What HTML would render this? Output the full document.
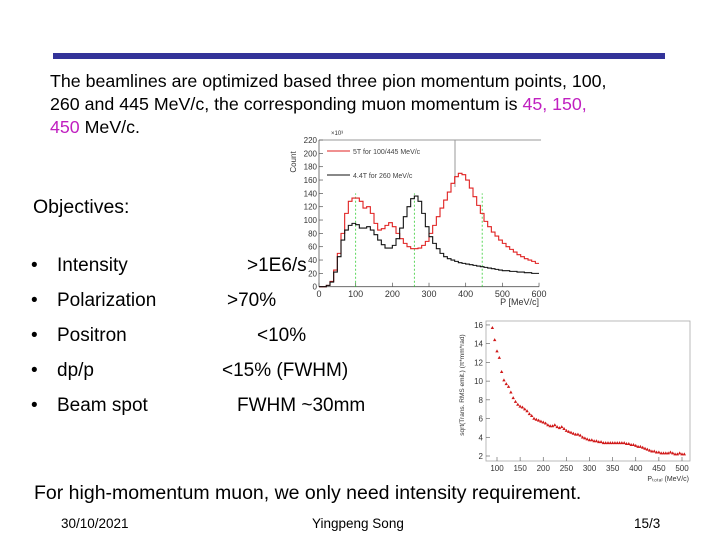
<!DOCTYPE html>
<html><head><meta charset="utf-8"><style>
body{margin:0;width:720px;height:540px;background:#fff;position:relative;overflow:hidden;font-family:"Liberation Sans",Arial,sans-serif;color:#000}
.t{position:absolute;white-space:nowrap}
.m{color:#c020c0}
.b{position:absolute;font-size:19px;line-height:22px}
</style></head><body>
<div style="position:absolute;left:53px;top:53px;width:612px;height:6px;background:#333399"></div>
<div class="t" style="left:50px;top:70px;font-size:17.8px;line-height:23px">The beamlines are optimized based three pion momentum points, 100,<br>260 and 445 MeV/c, the corresponding muon momentum is <span class="m">45, 150,</span><br><span class="m">450</span> MeV/c.</div>
<div class="t" style="left:33px;top:196px;font-size:19.5px">Objectives:</div>
<div class="t b" style="left:31px;top:255px">•</div><div class="t b" style="left:57px;top:255px">Intensity</div>
<div class="t b" style="left:31px;top:290px">•</div><div class="t b" style="left:57px;top:290px">Polarization</div>
<div class="t b" style="left:31px;top:325px">•</div><div class="t b" style="left:57px;top:325px">Positron</div>
<div class="t b" style="left:31px;top:360px">•</div><div class="t b" style="left:57px;top:360px">dp/p</div>
<div class="t b" style="left:31px;top:395px">•</div><div class="t b" style="left:57px;top:395px">Beam spot</div>
<div class="t b" style="left:227px;top:290px">&gt;70%</div>
<div class="t b" style="left:257px;top:325px">&lt;10%</div>
<div class="t b" style="left:222px;top:360px">&lt;15% (FWHM)</div>
<div class="t b" style="left:237px;top:395px">FWHM ~30mm</div>
<div class="t" style="left:34px;top:482px;font-size:19.5px">For high-momentum muon, we only need intensity requirement.</div>
<div class="t" style="left:61px;top:516px;font-size:13.5px">30/10/2021</div>
<div class="t" style="left:312px;top:516px;font-size:13.5px">Yingpeng Song</div>
<div class="t" style="left:634px;top:516px;font-size:13.5px">15/3</div>

<svg id="c1" width="720" height="540" style="position:absolute;left:0;top:0"></svg>
<div class="t b" style="left:247px;top:255px">&gt;1E6/s</div>

<script>
const hBins=[0,10,20,30,40,50,60,70,80,90,100,110,120,130,140,150,160,170,180,190,200,210,220,230,240,250,260,270,280,290,300,310,320,330,340,350,360,370,380,390,400,410,420,430,440,450,460,470,480,490,500,510,520,530,540,550,560,570,580,590];
const red5T=[0,0,2,8,25,50,80,110,128,133,133,128,118,120,110,95,85,87,92,96,90,80,72,65,60,57,57,58,62,68,80,92,105,118,130,142,155,165,170,168,160,148,135,122,110,98,90,82,76,70,65,60,56,52,48,45,42,40,38,35];
const black44T=[0,0,2,7,22,45,70,85,92,95,93,88,88,90,85,78,70,63,58,58,62,72,88,105,120,132,136,128,110,90,75,65,57,50,45,42,40,38,36,35,34,33,32,31,30,29,28,27,26,25,24,24,23,23,22,22,21,21,20,20];
const hXTicks=[0,100,200,300,400,500,600];
const hYTicks=[0,20,40,60,80,100,120,140,160,180,200,220];
const markers=[100,260,445];

const eP=[90,95,100,105,110,115,120,125,130,135,140,145,150,155,160,165,170,175,180,185,190,195,200,205,210,215,220,225,230,235,240,245,250,255,260,265,270,275,280,285,290,295,300,305,310,315,320,325,330,335,340,345,350,355,360,365,370,375,380,385,390,395,400,405,410,415,420,425,430,435,440,445,450,455,460,465,470,475,480,485,490,495,500,505];
const eEmit=[15.7,14.4,13.2,12.5,11.0,10.1,9.7,9.4,8.8,8.2,7.8,7.5,7.3,7.2,7.0,6.8,6.5,6.3,6.0,5.9,5.8,5.7,5.6,5.5,5.3,5.2,5.2,5.3,5.1,5.0,5.1,4.9,4.7,4.6,4.5,4.4,4.3,4.3,4.2,4.0,3.9,3.8,3.7,3.7,3.6,3.6,3.5,3.5,3.4,3.4,3.4,3.4,3.4,3.4,3.4,3.4,3.4,3.4,3.3,3.3,3.2,3.2,3.1,3.0,3.0,2.9,2.8,2.7,2.6,2.5,2.5,2.4,2.4,2.3,2.3,2.3,2.3,2.4,2.3,2.2,2.2,2.3,2.2,2.2];
const eXTicks=[100,150,200,250,300,350,400,450,500];
const eYTicks=[2,4,6,8,10,12,14,16];

const NS='http://www.w3.org/2000/svg';
const svg=document.getElementById('c1');
function mk(tag,at,txt){const e=document.createElementNS(NS,tag);for(const k in at)e.setAttribute(k,at[k]);if(txt!=null)e.textContent=txt;svg.appendChild(e);return e;}

const hx=v=>319+v*0.3667, hy=v=>286.7-v*0.6667;
let e;
e=mk('line',{x1:hx(0),y1:140,x2:hx(600)+2,y2:140,stroke:'#999','stroke-width':1});

e=mk('line',{x1:hx(0),y1:140,x2:hx(0),y2:hy(0),stroke:'#555','stroke-width':0.8});

e=mk('line',{x1:hx(0),y1:hy(0),x2:hx(600),y2:hy(0),stroke:'#555','stroke-width':0.8});

e=mk('line',{x1:455,y1:140,x2:455,y2:187,stroke:'#999','stroke-width':1});

hXTicks.forEach(v=>{e=mk('line',{x1:hx(v),y1:hy(0),x2:hx(v),y2:hy(0)-4,stroke:'#555','stroke-width':0.7});
e=mk('text',{x:hx(v),y:297,'font-size':9,'text-anchor':'middle',fill:'#333','font-family':'Liberation Sans'},v);});
hYTicks.forEach(v=>{e=mk('line',{x1:hx(0),y1:hy(v),x2:hx(0)+4,y2:hy(v),stroke:'#555','stroke-width':0.7});
e=mk('text',{x:hx(0)-2,y:hy(v)+3,'font-size':8,'text-anchor':'end',fill:'#333','font-family':'Liberation Sans'},v);});
e=mk('text',{x:331,y:135,'font-size':6,fill:'#333','font-family':'Liberation Sans'},'×10³');
e=mk('text',{x:0,y:0,'font-size':8,fill:'#333','font-family':'Liberation Sans',transform:'translate(296,162) rotate(-90)','text-anchor':'middle'},'Count');
e=mk('text',{x:hx(600),y:305,'font-size':9,fill:'#333','text-anchor':'end','font-family':'Liberation Sans'},'P [MeV/c]');
markers.forEach(v=>{e=mk('line',{x1:hx(v),y1:hy(0),x2:hx(v),y2:hy(140),stroke:'#3c3','stroke-width':0.8,'stroke-dasharray':'2,2'});});
function step(vals){let d='';vals.forEach((v,i)=>{const x0=hx(hBins[i]),x1=hx(hBins[i]+10),y=hy(v);d+=(i?'L':'M')+x0+','+y+'L'+x1+','+y;});return d;}
e=mk('path',{d:step(red5T),fill:'none',stroke:'#e02020','stroke-width':1.1});
e=mk('path',{d:step(black44T),fill:'none',stroke:'#111','stroke-width':1.1});
e=mk('line',{x1:327,y1:151,x2:350,y2:151,stroke:'#e02020','stroke-width':1});
e=mk('text',{x:353,y:154,'font-size':7,fill:'#444','font-family':'Liberation Sans'},'5T for 100/445 MeV/c');
e=mk('line',{x1:327,y1:175,x2:350,y2:175,stroke:'#111','stroke-width':1});
e=mk('text',{x:353,y:178,'font-size':7,fill:'#444','font-family':'Liberation Sans'},'4.4T for 260 MeV/c');

const ex=v=>497+(v-100)*0.4625, ey=v=>456-(v-2)*9.36;
e=mk('rect',{x:486,y:321,width:204,height:140,fill:'none',stroke:'#aaa','stroke-width':0.8});
eXTicks.forEach(v=>{e=mk('line',{x1:ex(v),y1:461,x2:ex(v),y2:457,stroke:'#555','stroke-width':0.6});
e=mk('text',{x:ex(v),y:471,'font-size':8,'text-anchor':'middle',fill:'#333','font-family':'Liberation Sans'},v);});
eYTicks.forEach(v=>{e=mk('line',{x1:486,y1:ey(v),x2:490,y2:ey(v),stroke:'#555','stroke-width':0.6});
e=mk('text',{x:483,y:ey(v)+3,'font-size':8,'text-anchor':'end',fill:'#333','font-family':'Liberation Sans'},v);});
e=mk('text',{x:0,y:0,'font-size':6.5,fill:'#333','font-family':'Liberation Sans',transform:'translate(464,385) rotate(-90)','text-anchor':'middle'},'sqrt(Trans. RMS emit.) (\u03c0*mm*rad)');
e=mk('text',{x:689,y:481,'font-size':7,fill:'#333','text-anchor':'end','font-family':'Liberation Sans'},'P\u209c\u2092\u209c\u2090\u2097 (MeV/c)');
eP.forEach((p,i)=>{const x=ex(p),y=ey(eEmit[i]);e=mk('path',{d:`M${x},${y-1.8}L${x+1.7},${y+1.2}L${x-1.7},${y+1.2}Z`,fill:'#d01818'});});
</script>
</body></html>
